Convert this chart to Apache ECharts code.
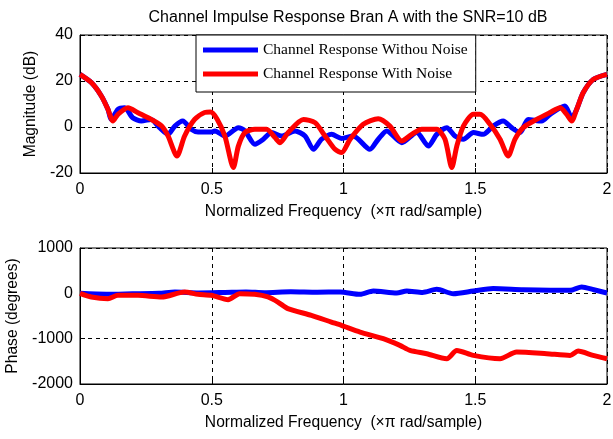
<!DOCTYPE html>
<html>
<head>
<meta charset="utf-8">
<title>Channel Impulse Response</title>
<script src="https://cdn.jsdelivr.net/npm/echarts@6/dist/echarts.min.js"></script>
<style>
    html, body { margin: 0; padding: 0; background: #fff; }
    #main { width: 613px; height: 439px; }
</style>
</head>
<body>
<div id="main"></div>
<script>
// magnitude (dB)
var magFreqClean = [0, 0.043, 0.081, 0.106, 0.119, 0.144, 0.17, 0.2, 0.233, 0.27, 0.302, 0.334, 0.36, 0.39, 0.422, 0.448, 0.498, 0.512, 0.55, 0.601, 0.626, 0.664, 0.696, 0.727, 0.765, 0.816, 0.854, 0.886, 0.917, 0.955, 0.993, 1.037, 1.1, 1.132, 1.164, 1.221, 1.278, 1.322, 1.354, 1.392, 1.423, 1.455, 1.493, 1.53, 1.568, 1.606, 1.638, 1.67, 1.701, 1.752, 1.784, 1.84, 1.866, 1.885, 1.91, 1.948, 2];
var magClean = [22.9, 19.3, 13.5, 7.7, 3.3, 7.7, 8.4, 4, 2.6, 3.3, -0.3, -3.2, 0.4, 2.6, -1, -2.2, -2.2, -1.7, -3.9, -0.3, -1.7, -7.5, -5.3, -2.4, -3.9, -1.7, -3.9, -9.7, -5.3, -3.2, -5, -3.9, -9.7, -5.3, -1.7, -6.8, -2.4, -8.3, -3.2, -0.3, -3.9, -5.3, -2.4, -3.2, 0.4, 2.6, -0.3, -2.4, 3.3, 2.6, 5.5, 9.1, 4, 7.7, 15, 20.7, 22.9];

var magFreqNoisy = [0, 0.043, 0.081, 0.106, 0.125, 0.144, 0.182, 0.22, 0.27, 0.31, 0.334, 0.368, 0.397, 0.435, 0.473, 0.495, 0.52, 0.55, 0.582, 0.601, 0.626, 0.664, 0.708, 0.74, 0.759, 0.79, 0.848, 0.892, 0.93, 0.968, 0.993, 1.025, 1.075, 1.132, 1.176, 1.221, 1.259, 1.297, 1.354, 1.385, 1.411, 1.43, 1.455, 1.493, 1.518, 1.556, 1.594, 1.625, 1.651, 1.682, 1.733, 1.784, 1.822, 1.847, 1.866, 1.885, 1.91, 1.948, 2];
var magNoisy = [22.9, 19.3, 13.5, 7.7, 2.6, 5.5, 8.4, 6.2, 3.3, 0.4, -3.9, -12.6, -3.9, 3.3, 6.3, 6.5, 3.5, -4, -17.6, -8.3, -2.4, -1, -1, -4.6, -6.8, -2.4, 3.3, 1.9, -3.9, -9.7, -11.1, -5.3, 1.2, 3.6, 0.4, -6.1, -3.2, -1, -1, -5.3, -17.6, -8.3, 0.4, 5.5, 5.5, 1.2, -5.3, -12.6, -5.3, -0.3, 3.3, 6.3, 8.4, 5.5, 2.6, 7.7, 15, 20.7, 22.9];

// phase (degrees)
var phaseFreqClean = [0, 0.1, 0.2, 0.3, 0.36, 0.45, 0.55, 0.63, 0.7, 0.8, 0.9, 0.987, 1.063, 1.113, 1.202, 1.24, 1.3, 1.354, 1.417, 1.493, 1.568, 1.682, 1.86, 1.904, 1.95, 2];
var phaseClean = [0, -20, -10, 0, 29, 10, 20, 30, 15, 35, 25, 29, -22, 51, 7, 51, 20, 88, -7, 51, 104, 81, 66, 140, 80, 7];

var phaseFreqNoisy = [0, 0.043, 0.106, 0.144, 0.22, 0.31, 0.397, 0.448, 0.498, 0.562, 0.606, 0.663, 0.713, 0.751, 0.789, 0.878, 0.954, 0.992, 1.063, 1.151, 1.214, 1.252, 1.316, 1.392, 1.43, 1.493, 1.594, 1.657, 1.771, 1.86, 1.89, 1.947, 2];
var phaseNoisy = [0, -80, -117, -44, -44, -80, 29, -22, -44, -139, -7, -22, -80, -192, -338, -486, -634, -707, -854, -1001, -1148, -1259, -1332, -1443, -1259, -1369, -1443, -1296, -1332, -1369, -1274, -1369, -1443];

var labelFont = 'Liberation Sans';

function pairs(xs, ys) {
    return xs.map(function (x, i) { return [x, ys[i]]; });
}

function xAxisOf(gridIndex) {
    return {
        type: 'value', gridIndex: gridIndex, min: 0, max: 2, interval: 0.5,
        name: 'Normalized Frequency  (\u00d7\u03c0 rad/sample)',
        nameLocation: 'middle', nameGap: 31,
        nameTextStyle: {color: '#000', fontSize: 15.6, fontFamily: labelFont},
        axisLine: {show: true, onZero: false, lineStyle: {color: '#000', width: 1}},
        axisTick: {show: true, inside: true, length: 5, lineStyle: {color: '#000'}},
        axisLabel: {color: '#000', fontSize: 16, fontFamily: labelFont, margin: 9},
        splitLine: {show: true, lineStyle: {color: '#000', type: [4, 4], width: 1}}
    };
}

function yAxisOf(gridIndex, min, max, step, name, gap) {
    return {
        type: 'value', gridIndex: gridIndex, min: min, max: max, interval: step,
        name: name, nameLocation: 'middle', nameGap: gap,
        nameTextStyle: {color: '#000', fontSize: 15.6, fontFamily: labelFont},
        axisLine: {show: true, lineStyle: {color: '#000', width: 1}},
        axisTick: {show: true, inside: true, length: 5, lineStyle: {color: '#000'}},
        axisLabel: {
            color: '#000', fontSize: 16, fontFamily: labelFont, margin: 7,
            formatter: function (v) { return String(v); }
        },
        splitLine: {show: true, lineStyle: {color: '#000', type: [4, 4], width: 1}}
    };
}

function lineOf(name, color, xi, data) {
    return {
        name: name, type: 'line', xAxisIndex: xi, yAxisIndex: xi,
        data: data, showSymbol: false, symbol: 'none', smooth: 0.25,
        lineStyle: {color: color, width: 5},
        itemStyle: {color: color},
        animation: false
    };
}

var chart = echarts.init(document.getElementById('main'), null, {renderer: 'canvas'});
chart.setOption({
    backgroundColor: '#fff',
    animation: false,
    title: {
        text: 'Channel Impulse Response Bran A with the SNR=10 dB',
        left: 343, top: 5, textAlign: 'center',
        textStyle: {color: '#000', fontSize: 16, fontWeight: 'normal', fontFamily: labelFont}
    },
    legend: {
        left: 196, top: 35, orient: 'vertical',
        padding: [7, 8, 10, 7],
        itemGap: 8, itemWidth: 55, itemHeight: 5,
        icon: 'rect',
        backgroundColor: '#fff', borderColor: '#000', borderWidth: 1,
        textStyle: {color: '#000', fontSize: 15.5, lineHeight: 16, fontFamily: 'Liberation Serif'},
        data: ['Channel Response Withou Noise', 'Channel Response With Noise']
    },
    grid: [
        {left: 80, right: 6, top: 35, height: 138, outerBoundsMode: 'none', show: true, borderColor: '#000', borderWidth: 1, backgroundColor: '#fff'},
        {left: 80, right: 6, top: 248, height: 136, outerBoundsMode: 'none', show: true, borderColor: '#000', borderWidth: 1, backgroundColor: '#fff'}
    ],
    xAxis: [xAxisOf(0), xAxisOf(1)],
    yAxis: [
        yAxisOf(0, -20, 40, 20, 'Magnitude (dB)', 39),
        yAxisOf(1, -2000, 1000, 1000, 'Phase (degrees)', 57)
    ],
    series: [
        lineOf('Channel Response Withou Noise', '#0000ff', 0, pairs(magFreqClean, magClean)),
        lineOf('Channel Response With Noise', '#ff0000', 0, pairs(magFreqNoisy, magNoisy)),
        lineOf('Channel Response Withou Noise', '#0000ff', 1, pairs(phaseFreqClean, phaseClean)),
        lineOf('Channel Response With Noise', '#ff0000', 1, pairs(phaseFreqNoisy, phaseNoisy))
    ]
});
</script>
</body>
</html>
